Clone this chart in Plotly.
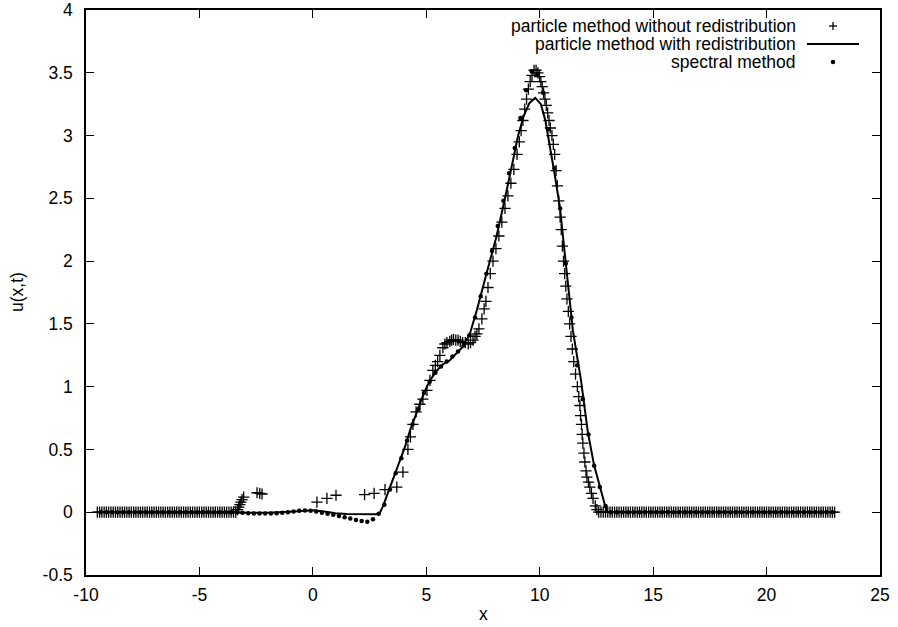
import plotly.graph_objects as go

# particle method without redistribution (crosses)
cross_left_x = [
    -9.5, -9.4, -9.3, -9.2, -9.1, -9.0, -8.9, -8.8, -8.7, -8.6,
    -8.5, -8.4, -8.3, -8.2, -8.1, -8.0, -7.9, -7.8, -7.7, -7.6,
    -7.5, -7.4, -7.3, -7.2, -7.1, -7.0, -6.9, -6.8, -6.7, -6.6,
    -6.5, -6.4, -6.3, -6.2, -6.1, -6.0, -5.9, -5.8, -5.7, -5.6,
    -5.5, -5.4, -5.3, -5.2, -5.1, -5.0, -4.9, -4.8, -4.7, -4.6,
    -4.5, -4.4, -4.3, -4.2, -4.1, -4.0, -3.9, -3.8, -3.7, -3.6,
    -3.5, -3.4,
]
cross_left_u = [
    0, 0, 0, 0, 0, 0, 0, 0, 0, 0,
    0, 0, 0, 0, 0, 0, 0, 0, 0, 0,
    0, 0, 0, 0, 0, 0, 0, 0, 0, 0,
    0, 0, 0, 0, 0, 0, 0, 0, 0, 0,
    0, 0, 0, 0, 0, 0, 0, 0, 0, 0,
    0, 0, 0, 0, 0, 0, 0, 0, 0, 0,
    0, 0,
]
cross_mid_x = [
    -3.32, -3.27, -3.22, -3.17, -3.12, -3.05, -2.46, -2.34, -2.24, 0.18,
    0.62, 1.02, 2.28, 2.7, 3.18, 3.7, 3.97, 4.19, 4.3, 4.41,
    4.55, 4.72, 4.85, 5.03, 5.16, 5.29, 5.4, 5.5, 5.6, 5.73,
    5.82, 5.91, 6.04, 6.12, 6.2, 6.3, 6.4, 6.5, 6.6, 6.72,
    6.85, 6.95, 7.06, 7.15, 7.23, 7.32, 7.45, 7.55, 7.63, 7.72,
    7.82, 7.94, 8.07, 8.2, 8.33, 8.47, 8.6, 8.73, 8.86, 9.0,
    9.1, 9.18, 9.26, 9.34, 9.42, 9.5, 9.58, 9.66, 9.75, 9.84,
    9.92, 9.99, 10.05, 10.11, 10.17, 10.23, 10.29, 10.35, 10.41, 10.47,
    10.54, 10.6, 10.66, 10.72, 10.78, 10.84, 10.9, 10.95, 11.0, 11.05,
    11.1, 11.15, 11.2, 11.26, 11.32, 11.38, 11.44, 11.5, 11.58, 11.66,
    11.72, 11.77, 11.8, 11.84, 11.87, 11.9, 11.95, 11.99, 12.04, 12.08,
    12.15, 12.21, 12.28, 12.35, 12.45, 12.52,
]
cross_mid_u = [
    0.02, 0.04, 0.06, 0.08, 0.10, 0.12, 0.155, 0.15, 0.145, 0.08,
    0.11, 0.135, 0.14, 0.15, 0.18, 0.2, 0.32, 0.5, 0.6, 0.7,
    0.8, 0.86, 0.9, 0.97, 1.05, 1.13, 1.17, 1.2, 1.25, 1.31,
    1.34, 1.35, 1.36, 1.37, 1.375, 1.37, 1.37, 1.36, 1.35, 1.35,
    1.34, 1.35, 1.37, 1.4, 1.42, 1.46, 1.54, 1.62, 1.68, 1.79,
    1.9, 2.0, 2.1, 2.2, 2.31, 2.42, 2.52, 2.62, 2.73, 2.85,
    2.95, 3.04, 3.12, 3.21, 3.29, 3.37, 3.43, 3.48, 3.52, 3.52,
    3.5, 3.47, 3.43, 3.39, 3.34, 3.29, 3.24, 3.18, 3.12, 3.06,
    3.0, 2.93, 2.85, 2.72, 2.6, 2.48, 2.35, 2.25, 2.12, 2.0,
    1.9, 1.8, 1.7, 1.6, 1.5, 1.4, 1.3, 1.2, 1.1, 1.0,
    0.92, 0.85, 0.77, 0.7, 0.62, 0.55, 0.47, 0.4, 0.33, 0.28,
    0.24, 0.2, 0.15, 0.11, 0.05, 0.02,
]
cross_right_x = [
    12.6, 12.7, 12.8, 12.9, 13.0, 13.1, 13.2, 13.3, 13.4, 13.5,
    13.6, 13.7, 13.8, 13.9, 14.0, 14.1, 14.2, 14.3, 14.4, 14.5,
    14.6, 14.7, 14.8, 14.9, 15.0, 15.1, 15.2, 15.3, 15.4, 15.5,
    15.6, 15.7, 15.8, 15.9, 16.0, 16.1, 16.2, 16.3, 16.4, 16.5,
    16.6, 16.7, 16.8, 16.9, 17.0, 17.1, 17.2, 17.3, 17.4, 17.5,
    17.6, 17.7, 17.8, 17.9, 18.0, 18.1, 18.2, 18.3, 18.4, 18.5,
    18.6, 18.7, 18.8, 18.9, 19.0, 19.1, 19.2, 19.3, 19.4, 19.5,
    19.6, 19.7, 19.8, 19.9, 20.0, 20.1, 20.2, 20.3, 20.4, 20.5,
    20.6, 20.7, 20.8, 20.9, 21.0, 21.1, 21.2, 21.3, 21.4, 21.5,
    21.6, 21.7, 21.8, 21.9, 22.0, 22.1, 22.2, 22.3, 22.4, 22.5,
    22.6, 22.7, 22.8, 22.9, 23.0,
]
cross_right_u = [
    0, 0, 0, 0, 0, 0, 0, 0, 0, 0,
    0, 0, 0, 0, 0, 0, 0, 0, 0, 0,
    0, 0, 0, 0, 0, 0, 0, 0, 0, 0,
    0, 0, 0, 0, 0, 0, 0, 0, 0, 0,
    0, 0, 0, 0, 0, 0, 0, 0, 0, 0,
    0, 0, 0, 0, 0, 0, 0, 0, 0, 0,
    0, 0, 0, 0, 0, 0, 0, 0, 0, 0,
    0, 0, 0, 0, 0, 0, 0, 0, 0, 0,
    0, 0, 0, 0, 0, 0, 0, 0, 0, 0,
    0, 0, 0, 0, 0, 0, 0, 0, 0, 0,
    0, 0, 0, 0, 0,
]

# particle method with redistribution (solid line)
line_x = [
    -9.5, -3.0, -2.0, -1.0, -0.5, 0.0, 0.5, 1.0, 1.5, 2.0,
    2.5, 2.8, 2.95, 3.1, 3.3, 3.6, 4.06, 4.3, 4.59, 4.9,
    5.16, 5.47, 5.75, 6.04, 6.3, 6.57, 6.92, 7.23, 7.58, 7.8,
    8.1, 8.47, 8.8, 9.05, 9.3, 9.55, 9.8, 10.05, 10.25, 10.45,
    10.67, 10.89, 11.2, 11.46, 11.82, 12.12, 12.39, 12.65, 12.87, 12.98,
    23.0,
]
line_u = [
    0.0, 0.0, -0.004, 0.004, 0.012, 0.015, 0.006, -0.008, -0.014, -0.017,
    -0.018, -0.016, -0.005, 0.05, 0.15, 0.3, 0.52, 0.66, 0.8, 0.95,
    1.05, 1.13, 1.18, 1.21, 1.26, 1.31, 1.42, 1.61, 1.85, 2.0,
    2.2, 2.5, 2.78, 3.0, 3.16, 3.26, 3.3, 3.25, 3.12, 2.92,
    2.68, 2.43, 1.88, 1.45, 1.05, 0.64, 0.38, 0.2, 0.06, 0.0,
    0.0,
]

# spectral method (dots)
dot_x = [
    -9.35, -9.1, -8.85, -8.6, -8.35, -8.1, -7.85, -7.6, -7.35, -7.1,
    -6.85, -6.6, -6.35, -6.1, -5.85, -5.6, -5.35, -5.1, -4.85, -4.6,
    -4.35, -4.1, -3.85, -3.6, -3.35, -3.1, -2.85, -2.6, -2.35, -2.1,
    -1.85, -1.6, -1.35, -1.1, -0.85, -0.6, -0.35, -0.1, 0.15, 0.4,
    0.65, 0.9, 1.15, 1.4, 1.65, 1.9, 2.15, 2.4, 2.65, 2.9,
    3.15, 3.4, 3.65, 3.9, 4.15, 4.4, 4.65, 4.9, 5.15, 5.4,
    5.65, 5.9, 6.15, 6.4, 6.65, 6.9, 7.15, 7.4, 7.65, 7.9,
    8.15, 8.4, 8.65, 8.9, 9.15, 9.4, 9.65, 9.9, 10.15, 10.4,
    10.65, 10.9, 11.15, 11.4, 11.65, 11.9, 12.15, 12.4, 12.65, 12.9,
    13.15, 13.4, 13.65, 13.9, 14.15, 14.4, 14.65, 14.9, 15.15, 15.4,
    15.65, 15.9, 16.15, 16.4, 16.65, 16.9, 17.15, 17.4, 17.65, 17.9,
    18.15, 18.4, 18.65, 18.9, 19.15, 19.4, 19.65, 19.9, 20.15, 20.4,
    20.65, 20.9, 21.15, 21.4, 21.65, 21.9, 22.15, 22.4, 22.65, 22.9,
]
dot_u = [
    0, 0, 0, 0, 0, 0, 0, 0, 0, 0,
    0, 0, 0, 0, 0, 0, 0, 0, 0, 0,
    0, 0, 0, 0, 0, -0.005, -0.008, -0.01, -0.01, -0.01,
    -0.01, -0.008, -0.004, 0.0, 0.006, 0.011, 0.014, 0.012, 0.005, -0.004,
    -0.012, -0.02, -0.03, -0.04, -0.05, -0.062, -0.07, -0.075, -0.055, -0.012,
    0.06, 0.18, 0.31, 0.43, 0.57, 0.7, 0.82, 0.95, 1.04, 1.11,
    1.16, 1.2, 1.24, 1.28, 1.33, 1.41, 1.55, 1.72, 1.9, 2.08,
    2.28, 2.48, 2.7, 2.9, 3.14, 3.36, 3.51, 3.49, 3.34, 3.05,
    2.74, 2.42, 1.98, 1.55, 1.17, 0.9, 0.62, 0.37, 0.2, 0.05,
    0, 0, 0, 0, 0, 0, 0, 0, 0, 0,
    0, 0, 0, 0, 0, 0, 0, 0, 0, 0,
    0, 0, 0, 0, 0, 0, 0, 0, 0, 0,
    0, 0, 0, 0, 0, 0, 0, 0, 0, 0,
]

x_ticks = [-10, -5, 0, 5, 10, 15, 20, 25]
x_tick_labels = ["-10", "-5", "0", "5", "10", "15", "20", "25"]
y_ticks = [-0.5, 0, 0.5, 1, 1.5, 2, 2.5, 3, 3.5, 4]
y_tick_labels = ["-0.5", "0", "0.5", "1", "1.5", "2", "2.5", "3", "3.5", "4"]
legend_labels = [
    "particle method without redistribution",
    "particle method with redistribution",
    "spectral method",
]

FONT = "Liberation Sans, Arial, Helvetica, sans-serif"
FS = 17.5

fig = go.Figure()
cross_marker = dict(symbol="cross-thin", size=8, color="black",
                    line=dict(width=1.3, color="black"))
fig.add_trace(go.Scatter(
    x=cross_left_x + cross_mid_x + cross_right_x,
    y=cross_left_u + cross_mid_u + cross_right_u,
    mode="markers", marker=cross_marker, name=legend_labels[0],
))
fig.add_trace(go.Scatter(
    x=line_x, y=line_u, mode="lines",
    line=dict(color="black", width=2), name=legend_labels[1],
))
fig.add_trace(go.Scatter(
    x=dot_x, y=dot_u, mode="markers",
    marker=dict(symbol="circle", size=4.5, color="black"),
    name=legend_labels[2],
))

axis_common = dict(
    showline=True, linecolor="black", linewidth=1.5, mirror="allticks",
    ticks="inside", ticklen=8, tickwidth=1, tickcolor="black",
    showgrid=False, zeroline=False, automargin=False,
    tickfont=dict(family=FONT, size=FS, color="black"),
)
fig.update_xaxes(range=[-10, 25], tickvals=x_ticks, ticktext=x_tick_labels,
                 ticklabelstandoff=3, **axis_common)
fig.update_yaxes(range=[-0.5, 4], tickvals=y_ticks, ticktext=y_tick_labels,
                 ticklabelstandoff=8, **axis_common)

# gnuplot-style key: right-aligned text, sample to the right
plot_l, plot_r, plot_t, plot_b = 86, 880, 10, 575
def px_x(p):
    return (p - plot_l) / (plot_r - plot_l)
def px_y(p):
    return (plot_b - p) / (plot_b - plot_t)

key_rows = [26, 44, 62]
key_text_right = 798
key_sample = 833
for label, row in zip(legend_labels, key_rows):
    fig.add_annotation(x=px_x(key_text_right), y=px_y(row), xref="paper", yref="paper",
                       text=label, showarrow=False, xanchor="right", yanchor="middle",
                       font=dict(family=FONT, size=FS, color="black"))
sx, r0, r1, r2 = px_x(key_sample), px_y(key_rows[0]), px_y(key_rows[1]), px_y(key_rows[2])
pix = dict(xref="paper", yref="paper", xsizemode="pixel", ysizemode="pixel")
fig.add_shape(type="line", xanchor=sx, yanchor=r0, x0=-4, x1=4, y0=0, y1=0,
              line=dict(color="black", width=1.3), **pix)
fig.add_shape(type="line", xanchor=sx, yanchor=r0, x0=0, x1=0, y0=-4, y1=4,
              line=dict(color="black", width=1.3), **pix)
fig.add_shape(type="line", xanchor=sx, yanchor=r1, x0=-26, x1=26, y0=0, y1=0,
              line=dict(color="black", width=2), **pix)
fig.add_shape(type="circle", xanchor=sx, yanchor=r2, x0=-2.2, x1=2.2, y0=-2.2, y1=2.2,
              fillcolor="black", line=dict(color="black", width=0), **pix)

fig.add_annotation(x=0.5, y=px_y(614), xref="paper", yref="paper", text="x",
                   showarrow=False, yanchor="middle",
                   font=dict(family=FONT, size=FS, color="black"))
fig.add_annotation(x=px_x(17), y=px_y(292), xref="paper", yref="paper", text="u(x,t)",
                   showarrow=False, textangle=-90, xanchor="center", yanchor="middle",
                   font=dict(family=FONT, size=FS, color="black"))

fig.update_layout(
    width=898, height=627, autosize=False,
    margin=dict(l=plot_l, r=898 - plot_r, t=plot_t, b=627 - plot_b),
    plot_bgcolor="white", paper_bgcolor="white",
    showlegend=False,
)

# drop the browser's default body margin so the figure sits at the page origin
fig.write_html("out.html", config={"displayModeBar": False},
               post_script="document.body.style.margin = '0px';")
